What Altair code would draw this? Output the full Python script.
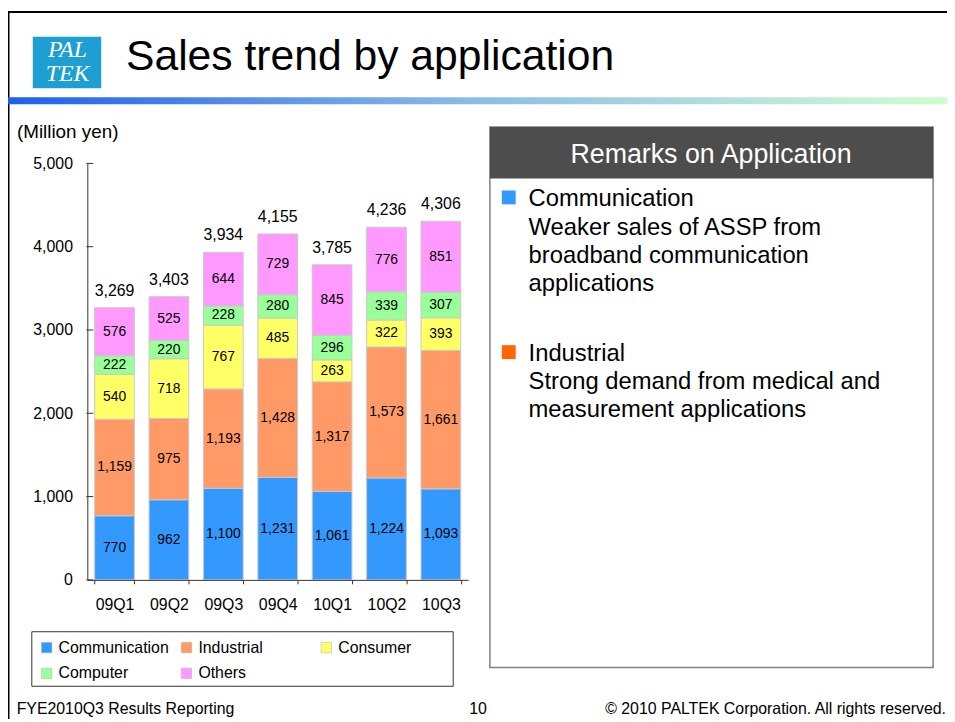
import altair as alt
import pandas as pd

# ---------------- data ----------------
quarters = ["09Q1", "09Q2", "09Q3", "09Q4", "10Q1", "10Q2", "10Q3"]
series = ["Communication", "Industrial", "Consumer", "Computer", "Others"]
communication = [770, 962, 1100, 1231, 1061, 1224, 1093]
industrial = [1159, 975, 1193, 1428, 1317, 1573, 1661]
consumer = [540, 718, 767, 485, 263, 322, 393]
computer = [222, 220, 228, 280, 296, 339, 307]
others = [576, 525, 644, 729, 845, 776, 851]
totals = [3269, 3403, 3934, 4155, 3785, 4236, 4306]
y_ticks = [0, 1000, 2000, 3000, 4000, 5000]
colors = ["#3399FF", "#FF9966", "#FFFF66", "#99FF99", "#FF99FF"]

rows = []
for si, (name, vals) in enumerate(zip(series, [communication, industrial, consumer, computer, others])):
    for q, v in zip(quarters, vals):
        rows.append({"quarter": q, "series": name, "order": si, "value": v})
df = pd.DataFrame(rows)
tot_df = pd.DataFrame({"quarter": quarters, "total": totals})
tick_df = pd.DataFrame({"tick": y_ticks})
one = pd.DataFrame({"k": [0]})

# ---------------- layout ----------------
W, H = 947, 714          # whole canvas
PL, PT = 80, 153.7       # plot area origin inside the canvas
PW, PH = 384, 420        # plot area size
FONT = "Liberation Sans"

xscale = alt.Scale(domain=quarters, paddingInner=0.27, paddingOuter=0.135)
yscale = alt.Scale(domain=[0, 5000], nice=False, zero=True)

xaxis = alt.Axis(title=None, orient="bottom", tickBand="extent", zindex=1,
                 tickSize=4, tickColor="#333333", domainColor="#333333",
                 labelFont=FONT, labelFontSize=16, labelColor="black",
                 labelPadding=13, labelAngle=0, grid=False)
yaxis = alt.Axis(title=None, orient="left", ticks=False, tickSize=0, zindex=1,
                 values=y_ticks, format=",.0f", domainColor="#333333",
                 labelFont=FONT, labelFontSize=16, labelColor="black",
                 labelPadding=15, grid=False)

stack_kw = dict(stack="value", groupby=["quarter"], as_=["y0", "y1"],
                sort=[alt.SortField("order", order="ascending")])

bars = alt.Chart(df).transform_stack(**stack_kw).mark_bar(
    stroke="#c8c8c8", strokeWidth=1
).encode(
    x=alt.X("quarter:N", scale=xscale, axis=xaxis),
    y=alt.Y("y0:Q", scale=yscale, axis=yaxis),
    y2="y1:Q",
    color=alt.Color("series:N", scale=alt.Scale(domain=series, range=colors),
                    legend=alt.Legend(orient="none", legendX=31 - PL, legendY=634 - PT,
                                      direction="horizontal", columns=3,
                                      gridAlign="all", title=None, symbolType="square",
                                      symbolSize=110, symbolStrokeColor="#b0b0b0",
                                      symbolStrokeWidth=0.5, symbolOpacity=1,
                                      labelFont=FONT, labelFontSize=16, labelColor="black",
                                      labelOffset=4, columnPadding=9, rowPadding=10, padding=0)),
)

seg_text = alt.Chart(df).transform_stack(**stack_kw).transform_calculate(
    mid="(datum.y0 + datum.y1) / 2"
).mark_text(font=FONT, fontSize=14, color="black", baseline="middle").encode(
    x=alt.X("quarter:N", scale=xscale, axis=xaxis),
    y=alt.Y("mid:Q", scale=yscale, axis=yaxis),
    text=alt.Text("value:Q", format=","),
)

tot_text = alt.Chart(tot_df).mark_text(font=FONT, fontSize=16, color="black",
                                       baseline="middle", dy=-17).encode(
    x=alt.X("quarter:N", scale=xscale, axis=xaxis),
    y=alt.Y("total:Q", scale=yscale, axis=yaxis),
    text=alt.Text("total:Q", format=","),
)

ytick_rules = alt.Chart(tick_df).mark_rule(color="#333333", strokeWidth=1).encode(
    y=alt.Y("tick:Q", scale=yscale, axis=yaxis),
    x=alt.value(-1),
    x2=alt.value(6),
)


# ---------------- decorations (canvas coordinates, shifted to plot origin) ----------------
def box(x1, x2, y1, y2, **kw):
    return alt.Chart(one).mark_rect(**kw).encode(
        x=alt.value(x1 - PL), x2=alt.value(x2 - PL),
        y=alt.value(y1 - PT), y2=alt.value(y2 - PT))


def label(x, y, txt, **kw):
    kw.setdefault("font", FONT)
    kw.setdefault("color", "black")
    return alt.Chart(one).mark_text(text=txt, **kw).encode(
        x=alt.value(x - PL), y=alt.value(y - PT))


gradient = alt.LinearGradient(
    gradient="linear",
    stops=[alt.GradientStop(color="#1e5ff0", offset=0),
           alt.GradientStop(color="#8cbde6", offset=0.5),
           alt.GradientStop(color="#b8e4dc", offset=0.8),
           alt.GradientStop(color="#ccffcc", offset=1)],
    x1=0, x2=1, y1=0, y2=0,
)

decor = [
    box(0, W, 0, 2, color="black"),
    box(0, 1.5, 0, H, color="black"),
    # logo
    box(25, 94, 26, 78, color="#1e9fd4"),
    label(60, 39, "PAL", font="Liberation Serif", fontStyle="italic", fontSize=24,
          color="white", align="center", baseline="middle"),
    label(60, 64, "TEK", font="Liberation Serif", fontStyle="italic", fontSize=24,
          color="white", align="center", baseline="middle"),
    # title
    label(119, 59, "Sales trend by application", fontSize=43, align="left",
          baseline="alphabetic"),
    box(0, W, 87, 94, color=gradient),
    # unit
    label(9, 122, "(Million yen)", fontSize=19, align="left", baseline="middle"),
    # remarks box
    box(486, 933, 117, 662, fill="white", stroke="#808080", strokeWidth=1.5),
    box(486, 933, 117, 169, color="#4d4d4d"),
    label(709, 153.7, "Remarks on Application", fontSize=27, color="white",
          align="center", baseline="alphabetic"),
    box(498, 512, 181, 195, color="#3399FF"),
    box(498, 512, 337, 351, color="#FF6600"),
    label(525, 197, ["Communication", "Weaker sales of ASSP from",
                     "broadband communication", "applications"],
          fontSize=24, align="left", baseline="alphabetic", lineHeight=28.5),
    label(525, 352.7, ["Industrial", "Strong demand from medical and",
                       "measurement applications"],
          fontSize=24, align="left", baseline="alphabetic", lineHeight=28.3),
    # legend frame
    box(24, 449, 626, 681, fill="white", stroke="#333333", strokeWidth=1),
    # footer
    label(8.7, 709.3, "FYE2010Q3 Results Reporting", fontSize=16, align="left",
          baseline="alphabetic"),
    label(474, 709.3, "10", fontSize=16, align="center", baseline="alphabetic"),
    label(946, 709.3, "\u00a9 2010 PALTEK Corporation. All rights reserved.", fontSize=16,
          align="right", baseline="alphabetic"),
]

chart = alt.layer(*decor, bars, seg_text, tot_text, ytick_rules).properties(
    width=PW, height=PH,
    padding={"left": PL, "top": PT, "right": W - PL - PW, "bottom": H - PT - PH},
    autosize=alt.AutoSizeParams(type="none"),
    background="white",
).configure_view(strokeWidth=0)

chart.save("out.html", embed_options={"renderer": "svg", "actions": False})
